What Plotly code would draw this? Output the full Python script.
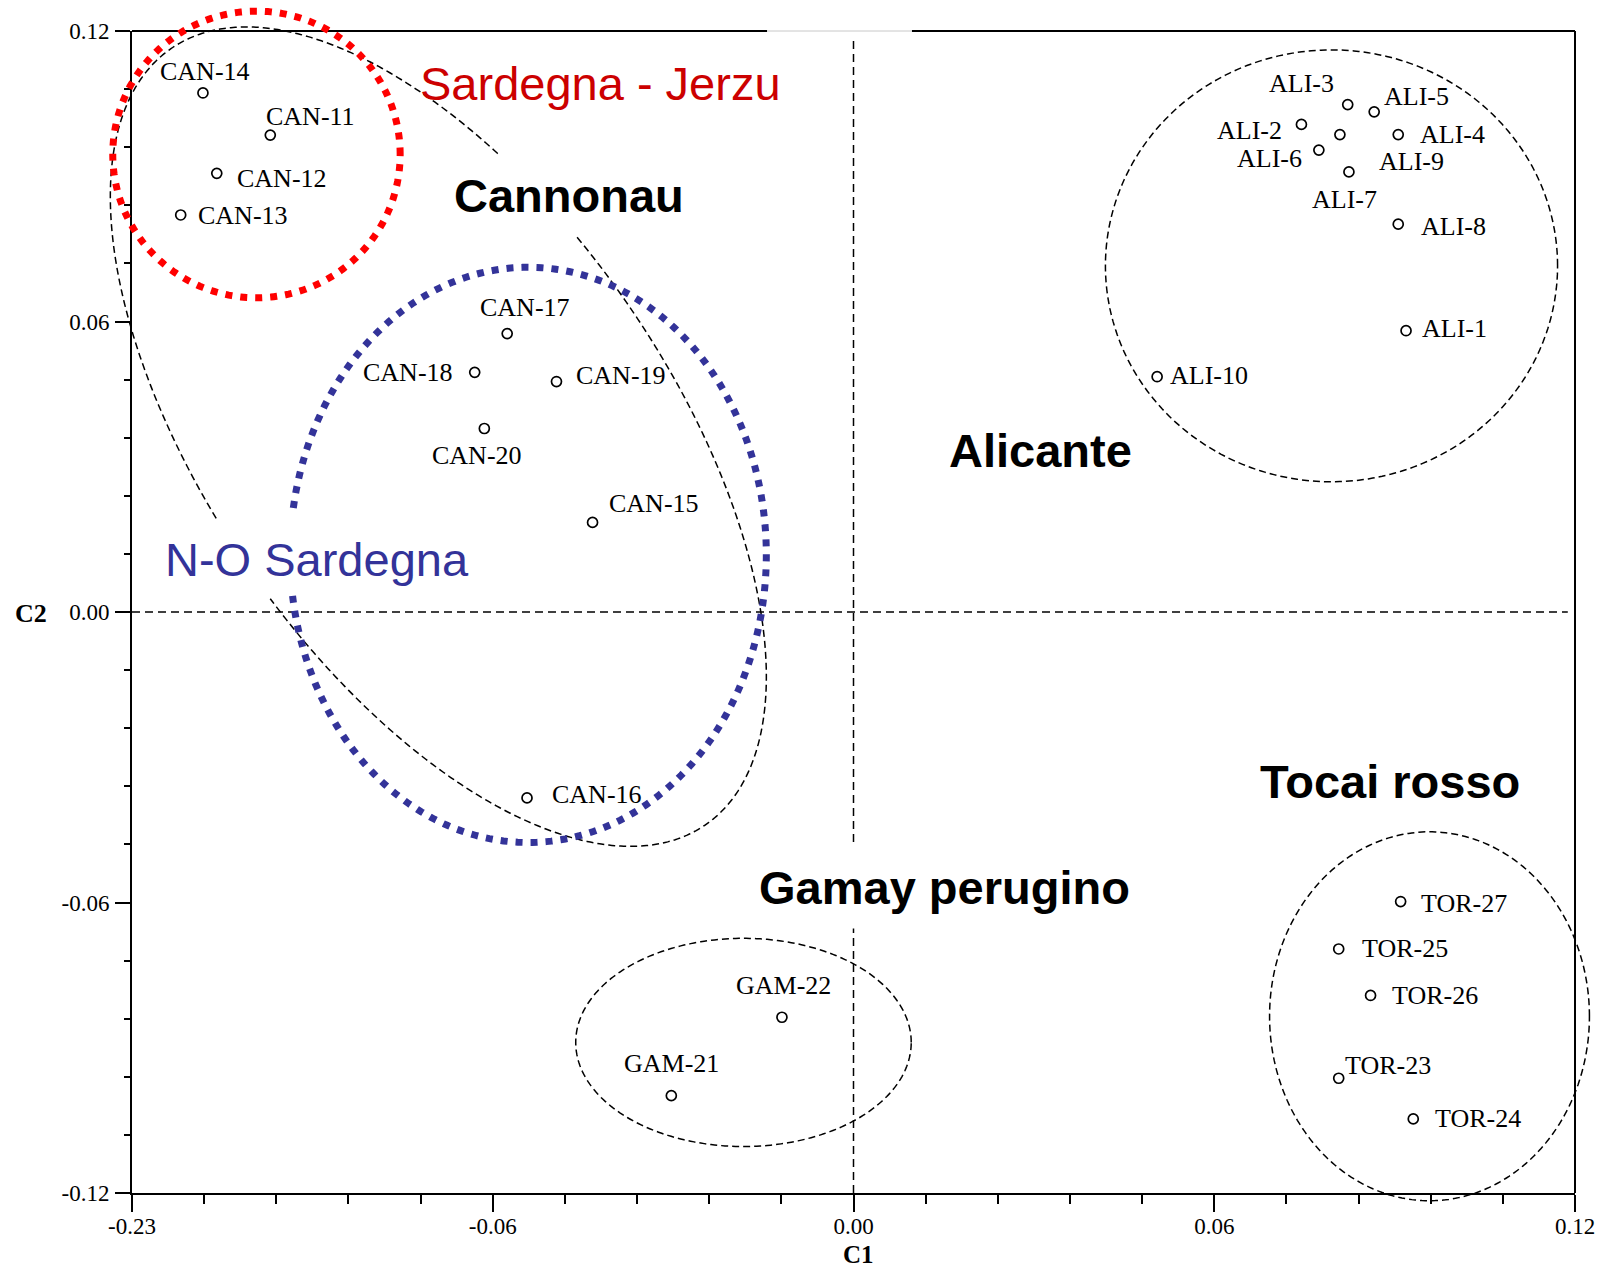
import numpy as np
import plotly.graph_objects as go

# ---------------- data ----------------
names = ["CAN-11", "CAN-12", "CAN-13", "CAN-14", "CAN-15", "CAN-16", "CAN-17", "CAN-18", "CAN-19", "CAN-20",
         "GAM-21", "GAM-22",
         "TOR-23", "TOR-24", "TOR-25", "TOR-26", "TOR-27",
         "ALI-1", "ALI-2", "ALI-3", "ALI-4", "ALI-5", "ALI-6", "ALI-7", "ALI-8", "ALI-9", "ALI-10"]
c1 = [-0.0970, -0.1059, -0.1119, -0.1082, -0.0434, -0.0543, -0.0576, -0.0630, -0.0494, -0.0614,
      -0.0303, -0.0119,
      0.0807, 0.0931, 0.0807, 0.0860, 0.0910,
      0.0919, 0.0745, 0.0822, 0.0906, 0.0866, 0.0774, 0.0824, 0.0906, 0.0809, 0.0505]
c2 = [0.0985, 0.0906, 0.0820, 0.1072, 0.0185, -0.0384, 0.0575, 0.0495, 0.0476, 0.0379,
      -0.0999, -0.0837,
      -0.0963, -0.1047, -0.0696, -0.0792, -0.0598,
      0.0581, 0.1007, 0.1048, 0.0986, 0.1033, 0.0954, 0.0909, 0.0801, 0.0986, 0.0486]

x_tickvals = [-0.12, -0.06, 0.0, 0.06, 0.12]
x_ticktext = ["-0.23", "-0.06", "0.00", "0.06", "0.12"]
y_tickvals = [-0.12, -0.06, 0.0, 0.06, 0.12]
y_ticktext = ["-0.12", "-0.06", "0.00", "0.06", "0.12"]

# label offsets in pixels (dx right, dy down) -- styling only
label_offsets = {
    "CAN-11": (40, -19), "CAN-12": (65, 5), "CAN-13": (62, 1), "CAN-14": (2, -21),
    "CAN-15": (61, -19), "CAN-16": (70, -3), "CAN-17": (18, -26), "CAN-18": (-67, 0),
    "CAN-19": (65, -6), "CAN-20": (-7, 27),
    "GAM-21": (0, -32), "GAM-22": (2, -32),
    "TOR-23": (49, -13), "TOR-24": (65, 0), "TOR-25": (66, 0), "TOR-26": (64, 0), "TOR-27": (63, 2),
    "ALI-1": (48, -2), "ALI-2": (-52, 6), "ALI-3": (-46, -21), "ALI-4": (54, 0), "ALI-5": (42, -15),
    "ALI-6": (-49, 8), "ALI-7": (-4, 28), "ALI-8": (55, 2), "ALI-9": (72, 27), "ALI-10": (52, -1),
}

XR = (-0.12, 0.12)
YR = (-0.12, 0.12)

SERIF = "Liberation Serif, Times New Roman, serif"
SANS = "Liberation Sans, Arial, sans-serif"


def to_paper(x, y):
    return (x - XR[0]) / (XR[1] - XR[0]), (y - YR[0]) / (YR[1] - YR[0])


def ellipse_path(center, u, v, t0, t1, closed, n=300):
    t = np.radians(np.linspace(t0, t1, n))
    x = center[0] + u[0] * np.cos(t) + v[0] * np.sin(t)
    y = center[1] + u[1] * np.cos(t) + v[1] * np.sin(t)
    px, py = to_paper(x, y)
    p = "M " + " L ".join(f"{a:.5f},{b:.5f}" for a, b in zip(px, py))
    if closed:
        p += " Z"
    return p


fig = go.Figure()

fig.add_trace(go.Scatter(
    x=c1, y=c2, mode="markers",
    marker=dict(symbol="circle-open", size=10, color="black", line=dict(width=1.7)),
    hoverinfo="text", text=names, showlegend=False, cliponaxis=False,
))

annotations = []
for n, xv, yv in zip(names, c1, c2):
    dx, dy = label_offsets[n]
    annotations.append(dict(
        x=xv, y=yv, xref="x", yref="y", text=n, showarrow=False,
        xshift=dx, yshift=-dy, xanchor="center", yanchor="middle",
        font=dict(family=SERIF, size=26, color="black"),
    ))

# group labels
group_labels = [
    ("Sardegna - Jerzu", -0.0421, 0.1091, "#cc0000", False),
    ("Cannonau", -0.0474, 0.0860, "black", True),
    ("Alicante", 0.0311, 0.0333, "black", True),
    ("N-O Sardegna", -0.0892, 0.0108, "#333399", False),
    ("Tocai rosso", 0.0893, -0.0350, "black", True),
]
for txt, xv, yv, col, bold in group_labels:
    annotations.append(dict(
        x=xv, y=yv, xref="x", yref="y", showarrow=False,
        text=f"<b>{txt}</b>" if bold else txt,
        font=dict(family=SANS, size=47, color=col),
        xanchor="center", yanchor="middle",
    ))
annotations.append(dict(
    x=0.0151, y=-0.0568, xref="x", yref="y", showarrow=False,
    text="<b>Gamay perugino</b>", font=dict(family=SANS, size=47, color="black"),
    xanchor="center", yanchor="middle", bgcolor="white", borderpad=14,
))

# axis titles
annotations.append(dict(x=0, y=-0.053, xref="x", yref="paper", xshift=5, text="<b>C1</b>",
                        showarrow=False, font=dict(family=SERIF, size=25, color="black"),
                        xanchor="center", yanchor="middle"))
annotations.append(dict(x=-0.0701, y=0, xref="paper", yref="y", yshift=-1, text="<b>C2</b>",
                        showarrow=False, font=dict(family=SERIF, size=26, color="black"),
                        xanchor="center", yanchor="middle"))

shapes = []
# dashed zero lines
shapes.append(dict(type="line", xref="x", yref="paper", x0=0, x1=0, y0=0, y1=0.993,
                   line=dict(color="black", width=1.5, dash="8px,5px"), layer="below"))
shapes.append(dict(type="line", xref="paper", yref="y", x0=0, x1=0.995, y0=0, y1=0,
                   line=dict(color="black", width=1.5, dash="8px,5px"), layer="below"))

# frame (right and top)
shapes.append(dict(type="line", xref="paper", yref="paper", x0=1, x1=1, y0=0, y1=1,
                   line=dict(color="black", width=2)))
shapes.append(dict(type="line", xref="paper", yref="paper", x0=0, x1=0.4401, y0=1, y1=1,
                   line=dict(color="black", width=2)))
shapes.append(dict(type="line", xref="paper", yref="paper", x0=0.5405, x1=1, y0=1, y1=1,
                   line=dict(color="black", width=2)))
shapes.append(dict(type="line", xref="paper", yref="paper", x0=0.4401, x1=0.5405, y0=1, y1=1,
                   line=dict(color="#c8c8c8", width=1)))

black_dash = dict(color="black", width=1.5, dash="7px,4px")

# Cannonau tilted ellipse (two arcs with gaps for labels)
can_c, can_u, can_v = (-0.06905, 0.03622), (0.0444, -0.0802), (-0.0317, -0.0270)
shapes.append(dict(type="path", xref="paper", yref="paper",
                   path=ellipse_path(can_c, can_u, can_v, -100.5, 85.3, False), line=black_dash))
shapes.append(dict(type="path", xref="paper", yref="paper",
                   path=ellipse_path(can_c, can_u, can_v, 97.1, 245.3, False), line=black_dash))

# Alicante, Gamay, Tocai ellipses
for (cx, cy, rx, ry) in [(0.0795, 0.0715, 0.0376, 0.0446),
                         (-0.0183, -0.0889, 0.0279, 0.0215),
                         (0.0958, -0.0835, 0.0266, 0.0381)]:
    shapes.append(dict(type="path", xref="paper", yref="paper",
                       path=ellipse_path((cx, cy), (rx, 0), (0, ry), 0, 360, True), line=black_dash))

# red dotted circle (Sardegna - Jerzu)
shapes.append(dict(type="path", xref="paper", yref="paper",
                   path=ellipse_path((-0.0993, 0.0945), (0.0239, 0), (0, 0.0296), 0, 360, True),
                   line=dict(color="#ff0000", width=7, dash="7px,8px")))
# blue dotted ellipse (N-O Sardegna)
shapes.append(dict(type="path", xref="paper", yref="paper",
                   path=ellipse_path((-0.0541, 0.0118), (0.0396, 0), (0, 0.0594), -171.8, 171.8, False),
                   line=dict(color="#333399", width=7, dash="7px,8px")))

fig.update_layout(
    width=1609, height=1272, autosize=False,
    margin=dict(l=132, r=34, t=31, b=79, pad=0),
    plot_bgcolor="white", paper_bgcolor="white",
    showlegend=False,
    annotations=annotations,
    shapes=shapes,
    xaxis=dict(
        range=list(XR), tickmode="array", tickvals=x_tickvals, ticktext=x_ticktext,
        ticks="outside", ticklen=17, tickwidth=2, tickcolor="black",
        showline=True, linewidth=2, linecolor="black", mirror=False,
        showgrid=False, zeroline=False, ticklabelstandoff=-6,
        tickfont=dict(family=SERIF, size=23, color="black"),
        minor=dict(ticks="outside", ticklen=9, tickwidth=1.5, tickcolor="black",
                   dtick=0.012, tick0=-0.12, showgrid=False),
    ),
    yaxis=dict(
        range=list(YR), tickmode="array", tickvals=y_tickvals, ticktext=y_ticktext,
        ticks="outside", ticklen=15, tickwidth=2, tickcolor="black",
        showline=True, linewidth=2, linecolor="black", mirror=False,
        showgrid=False, zeroline=False, ticklabelstandoff=1,
        tickfont=dict(family=SERIF, size=23, color="black"),
        minor=dict(ticks="outside", ticklen=6, tickwidth=1.5, tickcolor="black",
                   dtick=0.012, tick0=-0.12, showgrid=False),
    ),
)

fig.write_html("out.html", config={"displayModeBar": False},
               post_script="document.body.style.margin='0px';document.body.style.overflow='hidden';")
